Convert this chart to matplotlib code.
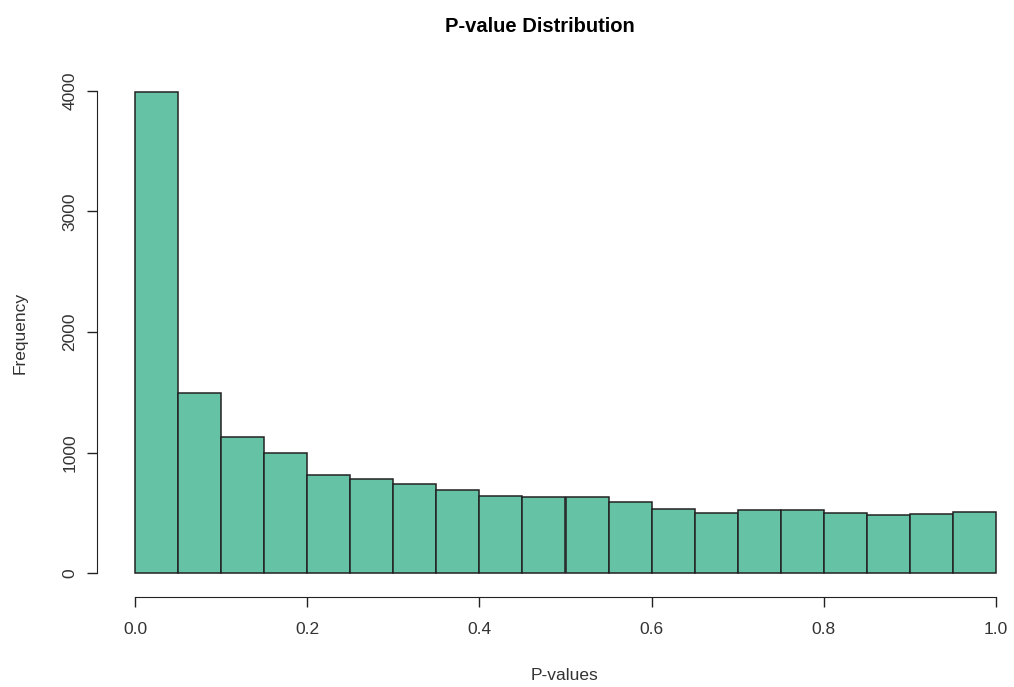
import matplotlib
matplotlib.use('Agg')
import matplotlib.pyplot as plt
import numpy as np

plt.rcParams['font.family'] = ['Liberation Sans', 'DejaVu Sans']

# histogram of p-values, 20 bins of width 0.05
breaks = np.round(np.arange(0, 1.0001, 0.05), 2)
counts = [3990, 1496, 1126, 998, 816, 777, 736, 686, 636, 628,
          628, 589, 528, 501, 520, 520, 501, 479, 490, 509]
xticks = [0.0, 0.2, 0.4, 0.6, 0.8, 1.0]
yticks = [0, 1000, 2000, 3000, 4000]

W, H = 1014, 687
fig = plt.figure(figsize=(W / 100, H / 100), dpi=100)
# axes box: left at the y-axis line, bottom at the x-axis line
left, right, bottom, top = 97, W, 597, 60
ax = fig.add_axes([left / W, 1 - bottom / H, (right - left) / W, (bottom - top) / H])

ax.bar(breaks[:-1], counts, width=0.05, align='edge',
       color='#66C2A5', edgecolor='#222222', linewidth=1.1)

# pixel mapping: x 0 -> 135, 1 -> 996 ; y 0 -> 573, 4000 -> 91
px_per_x = 861.0
px_per_y = 482.0 / 4000
ax.set_xlim(-(135 - left) / px_per_x, 1 + (right - 996) / px_per_x)
ax.set_ylim(-(bottom - 573) / px_per_y, (573 - top) / px_per_y)

for s in ['top', 'right']:
    ax.spines[s].set_visible(False)
ax.spines['left'].set_bounds(0, 4000)
ax.spines['bottom'].set_bounds(0, 1)
ax.spines['left'].set_color('#222222')
ax.spines['bottom'].set_color('#222222')

ax.set_xticks(xticks)
ax.set_xticklabels(['%.1f' % v for v in xticks])
ax.set_yticks(yticks)
ax.set_yticklabels([str(v) for v in yticks], rotation=90, va='center')
ax.tick_params(axis='both', direction='out', length=7, width=1,
               labelsize=12.5, colors='#222222', labelcolor='#333333')
ax.tick_params(axis='x', pad=11)
ax.tick_params(axis='y', pad=7)

fig.text(540 / W, 1 - 27 / H, 'P-value Distribution', ha='center', va='center',
         fontsize=14.5, fontweight='bold')
fig.text(565 / W, 1 - 675 / H, 'P-values', ha='center', va='center',
         fontsize=12.5, color='#333333')
fig.text(20 / W, 1 - 333 / H, 'Frequency', ha='center', va='center',
         rotation=90, fontsize=12.5, color='#333333')

plt.savefig('out.png', dpi=100)
